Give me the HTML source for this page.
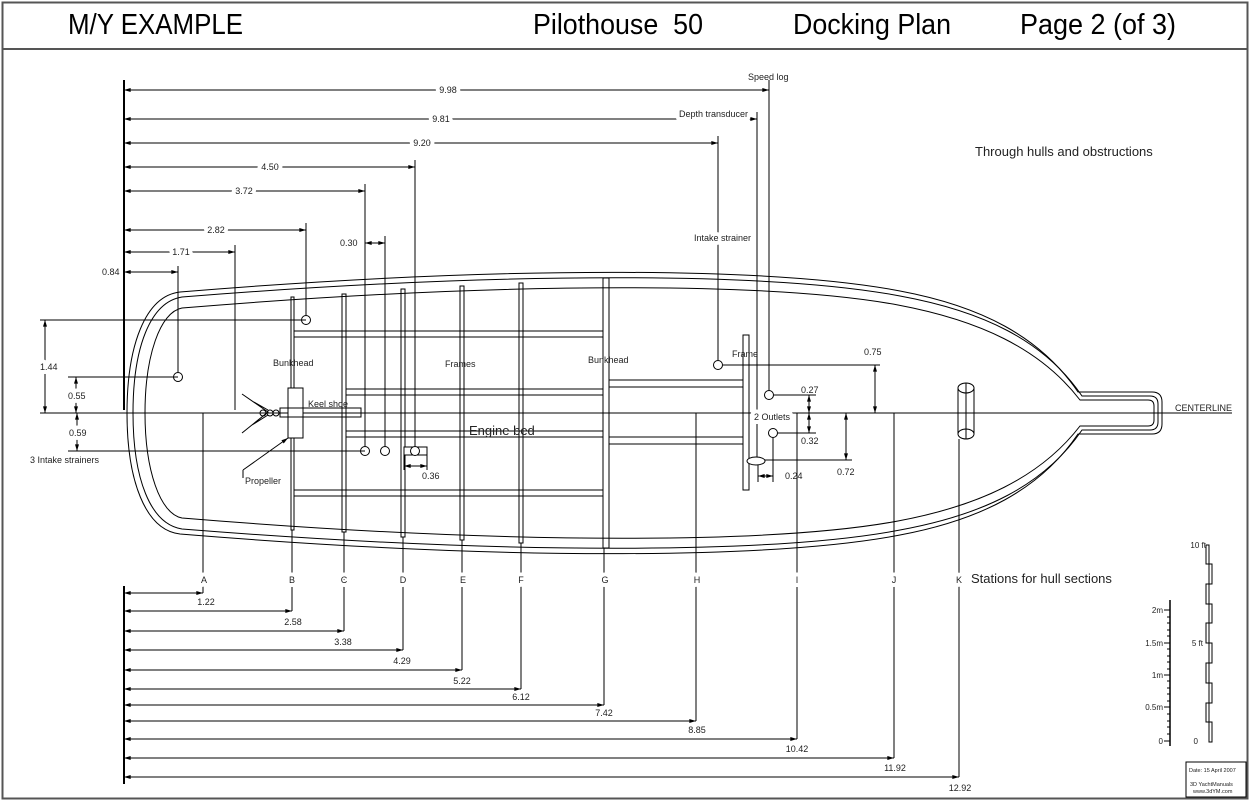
<!DOCTYPE html>
<html><head><meta charset="utf-8"><style>
html,body{margin:0;padding:0;background:#fff}
svg{display:block}
text{font-family:"Liberation Sans",sans-serif;fill:#222}
.g{paint-order:stroke;stroke:#fff;stroke-width:8px;stroke-linejoin:round}
</style></head><body>
<svg width="1252" height="802" viewBox="0 0 1252 802" xmlns="http://www.w3.org/2000/svg">
<defs>
<marker id="a" viewBox="0 0 10 6" refX="10" refY="3" markerWidth="7" markerHeight="4" markerUnits="userSpaceOnUse" orient="auto-start-reverse"><path d="M0,0 L10,3 L0,6 z" fill="#000"/></marker>
</defs>
<g fill="none" stroke="#000" stroke-width="1">
<rect x="2.5" y="2.5" width="1245" height="796" stroke="#555" stroke-width="2"/>
<line x1="2" y1="49" x2="1248" y2="49" stroke="#555" stroke-width="2"/>

<line x1="124" y1="80" x2="124" y2="410" stroke-width="2"/>
<line x1="124" y1="586" x2="124" y2="784" stroke-width="2"/>

<line x1="40" y1="413" x2="1232" y2="413"/>

<path d="M1078,392 L1152,392 Q1162,392 1162,402 L1162,424 Q1162,434 1152,434 L1078,434 C1040,490 980,520 900,535 C780,558 520,562 180,534 C145,530 127,480 127,413 C127,346 145,296 180,292 C520,264 780,268 900,291 C980,306 1040,336 1078,392 Z"/>
<path d="M1082,396 L1150,396 Q1158,396 1158,404 L1158,422 Q1158,430 1150,430 L1082,430 C1044,486 982,515 900,530 C780,553 520,556 182,529 C150,524 133,478 133,413 C133,348 150,302 182,297 C520,270 780,273 900,296 C982,311 1044,340 1082,396 Z"/>
<path d="M1080,400 L1148,400 Q1154,400 1154,406 L1154,420 Q1154,426 1148,426 L1080,426 C1040,478 978,506 898,521 C780,543 520,546 182,518 C160,514 145,470 145,413 C145,356 160,312 182,308 C520,280 780,283 898,305 C978,320 1040,348 1080,400 Z"/>

<rect x="291" y="297" width="3" height="233"/>
<rect x="342" y="294" width="4" height="238"/>
<rect x="401" y="289" width="4" height="248"/>
<rect x="460" y="286" width="4" height="254"/>
<rect x="519" y="283" width="4" height="260"/>
<rect x="603" y="278" width="6" height="270"/>
<rect x="743" y="335" width="6" height="155"/>
<line x1="294" y1="331" x2="603" y2="331"/><line x1="294" y1="337" x2="603" y2="337"/>
<line x1="346" y1="389" x2="603" y2="389"/><line x1="346" y1="395" x2="603" y2="395"/>
<line x1="346" y1="431" x2="603" y2="431"/><line x1="346" y1="437" x2="603" y2="437"/>
<line x1="294" y1="490" x2="603" y2="490"/><line x1="294" y1="496" x2="603" y2="496"/>
<line x1="609" y1="380" x2="743" y2="380"/><line x1="609" y1="387" x2="743" y2="387"/>
<line x1="609" y1="437" x2="743" y2="437"/><line x1="609" y1="444" x2="743" y2="444"/>

<rect x="288" y="388" width="15" height="50" fill="#fff"/>
<rect x="280" y="408" width="81" height="9"/>
<path d="M240,413 L270,413 M242,394 L268,412 L242,433 M252,401 L268,410 M252,425 L268,415"/>
<circle cx="263" cy="413" r="3"/><circle cx="270" cy="413" r="3"/><circle cx="276" cy="413" r="3"/>
<line x1="243" y1="470" x2="288" y2="438" marker-end="url(#a)"/>
<line x1="243" y1="470" x2="243" y2="478"/>

<line x1="124" y1="90" x2="769" y2="90" marker-start="url(#a)" marker-end="url(#a)"/>
<line x1="769" y1="80" x2="769" y2="390"/>
<line x1="124" y1="119" x2="757" y2="119" marker-start="url(#a)" marker-end="url(#a)"/>
<line x1="757" y1="112" x2="757" y2="457"/>
<line x1="124" y1="143" x2="718" y2="143" marker-start="url(#a)" marker-end="url(#a)"/>
<line x1="718" y1="136" x2="718" y2="360"/>
<line x1="124" y1="167" x2="415" y2="167" marker-start="url(#a)" marker-end="url(#a)"/>
<line x1="415" y1="160" x2="415" y2="446"/>
<line x1="124" y1="191" x2="365" y2="191" marker-start="url(#a)" marker-end="url(#a)"/>
<line x1="365" y1="184" x2="365" y2="446"/>
<line x1="124" y1="230" x2="306" y2="230" marker-start="url(#a)" marker-end="url(#a)"/>
<line x1="306" y1="223" x2="306" y2="315"/>
<line x1="124" y1="252" x2="235" y2="252" marker-start="url(#a)" marker-end="url(#a)"/>
<line x1="235" y1="245" x2="235" y2="410"/>
<line x1="124" y1="272" x2="178" y2="272" marker-start="url(#a)" marker-end="url(#a)"/>
<line x1="178" y1="266" x2="178" y2="372"/>
<line x1="365" y1="243" x2="385" y2="243" marker-start="url(#a)" marker-end="url(#a)"/>
<line x1="385" y1="236" x2="385" y2="446"/>

<circle cx="306" cy="320" r="4.5" fill="#fff"/>
<circle cx="178" cy="377" r="4.5" fill="#fff"/>
<circle cx="365" cy="451" r="4.5" fill="#fff"/>
<circle cx="385" cy="451" r="4.5" fill="#fff"/>
<rect x="404" y="447" width="23" height="8" fill="#fff"/>
<circle cx="415" cy="451" r="4.5" fill="#fff"/>
<circle cx="718" cy="365" r="4.5" fill="#fff"/>
<circle cx="769" cy="395" r="4.5" fill="#fff"/>
<circle cx="773" cy="433" r="4.5" fill="#fff"/>
<ellipse cx="756" cy="461" rx="9" ry="4" fill="#fff"/>
<line x1="404" y1="455" x2="404" y2="470"/><line x1="427" y1="455" x2="427" y2="470"/>
<line x1="404" y1="466" x2="427" y2="466" marker-start="url(#a)" marker-end="url(#a)"/>

<line x1="40" y1="320" x2="306" y2="320"/>
<line x1="68" y1="377" x2="178" y2="377"/>
<line x1="68" y1="451" x2="365" y2="451"/>
<line x1="45" y1="320" x2="45" y2="413" marker-start="url(#a)" marker-end="url(#a)"/>
<line x1="76" y1="377" x2="76" y2="413" marker-start="url(#a)" marker-end="url(#a)"/>
<line x1="77" y1="413" x2="77" y2="451" marker-start="url(#a)" marker-end="url(#a)"/>

<line x1="723" y1="365" x2="880" y2="365"/>
<line x1="875" y1="365" x2="875" y2="413" marker-start="url(#a)" marker-end="url(#a)"/>
<line x1="774" y1="395" x2="816" y2="395"/>
<line x1="809" y1="395" x2="809" y2="413" marker-start="url(#a)" marker-end="url(#a)"/>
<line x1="809" y1="413" x2="809" y2="433" marker-start="url(#a)" marker-end="url(#a)"/>
<line x1="778" y1="433" x2="816" y2="433"/>
<line x1="765" y1="460" x2="852" y2="460"/>
<line x1="846" y1="413" x2="846" y2="460" marker-start="url(#a)" marker-end="url(#a)"/>
<line x1="773" y1="438" x2="773" y2="482"/>
<line x1="758" y1="465" x2="758" y2="482"/>
<line x1="758" y1="476" x2="773" y2="476" marker-start="url(#a)" marker-end="url(#a)"/>

<ellipse cx="966" cy="388" rx="8" ry="5"/>
<ellipse cx="966" cy="434" rx="8" ry="5"/>
<line x1="958" y1="388" x2="958" y2="434"/><line x1="974" y1="388" x2="974" y2="434"/>
<line x1="966" y1="383" x2="966" y2="439"/>

<line x1="203" y1="413" x2="203" y2="593"/>
<line x1="292" y1="530" x2="292" y2="611"/>
<line x1="344" y1="532" x2="344" y2="631"/>
<line x1="403" y1="537" x2="403" y2="650"/>
<line x1="462" y1="540" x2="462" y2="670"/>
<line x1="521" y1="543" x2="521" y2="689"/>
<line x1="604" y1="548" x2="604" y2="705"/>
<line x1="696" y1="413" x2="696" y2="721"/>
<line x1="797" y1="413" x2="797" y2="739"/>
<line x1="894" y1="413" x2="894" y2="758"/>
<line x1="959" y1="439" x2="959" y2="777"/>

<line x1="124" y1="593" x2="203" y2="593" marker-start="url(#a)" marker-end="url(#a)"/>
<line x1="124" y1="611" x2="292" y2="611" marker-start="url(#a)" marker-end="url(#a)"/>
<line x1="124" y1="631" x2="344" y2="631" marker-start="url(#a)" marker-end="url(#a)"/>
<line x1="124" y1="650" x2="403" y2="650" marker-start="url(#a)" marker-end="url(#a)"/>
<line x1="124" y1="670" x2="462" y2="670" marker-start="url(#a)" marker-end="url(#a)"/>
<line x1="124" y1="689" x2="521" y2="689" marker-start="url(#a)" marker-end="url(#a)"/>
<line x1="124" y1="705" x2="604" y2="705" marker-start="url(#a)" marker-end="url(#a)"/>
<line x1="124" y1="721" x2="696" y2="721" marker-start="url(#a)" marker-end="url(#a)"/>
<line x1="124" y1="739" x2="797" y2="739" marker-start="url(#a)" marker-end="url(#a)"/>
<line x1="124" y1="758" x2="894" y2="758" marker-start="url(#a)" marker-end="url(#a)"/>
<line x1="124" y1="777" x2="959" y2="777" marker-start="url(#a)" marker-end="url(#a)"/>

<line x1="1170" y1="600" x2="1170" y2="746" stroke-width="1.5"/>
<path d="M1164,741H1170 M1164,707H1170 M1164,675H1170 M1164,643H1170 M1164,610H1170 M1167,734H1170 M1167,727H1170 M1167,721H1170 M1167,714H1170 M1167,701H1170 M1167,694H1170 M1167,688H1170 M1167,681H1170 M1167,669H1170 M1167,662H1170 M1167,656H1170 M1167,649H1170 M1167,636H1170 M1167,630H1170 M1167,623H1170 M1167,617H1170"/>
<path d="M1206,545 H1209 V564 H1206 Z M1209,564 H1212 V584 H1209 Z M1206,584 H1209 V604 H1206 Z M1209,604 H1212 V623 H1209 Z M1206,623 H1209 V643 H1206 Z M1209,643 H1212 V663 H1209 Z M1206,663 H1209 V683 H1206 Z M1209,683 H1212 V703 H1209 Z M1206,703 H1209 V722 H1206 Z M1209,722 H1212 V742 H1209 Z"/>
<rect x="1186" y="762" width="60" height="35"/>
</g>

<g font-size="29">
<text x="68" y="34" textLength="175" lengthAdjust="spacingAndGlyphs" style="fill:#000">M/Y EXAMPLE</text>
<text x="533" y="34" textLength="170" lengthAdjust="spacingAndGlyphs" style="fill:#000">Pilothouse &#160;50</text>
<text x="793" y="34" textLength="158" lengthAdjust="spacingAndGlyphs" style="fill:#000">Docking Plan</text>
<text x="1020" y="34" textLength="156" lengthAdjust="spacingAndGlyphs" style="fill:#000">Page 2 (of 3)</text>
</g>

<g font-size="9">
<text x="748" y="80">Speed log</text>
<text class="g" x="448" y="93" text-anchor="middle">9.98</text>
<text class="g" x="679" y="117">Depth transducer</text>
<text class="g" x="441" y="122" text-anchor="middle">9.81</text>
<text class="g" x="422" y="146" text-anchor="middle">9.20</text>
<text class="g" x="270" y="170" text-anchor="middle">4.50</text>
<text class="g" x="244" y="194" text-anchor="middle">3.72</text>
<text class="g" x="216" y="233" text-anchor="middle">2.82</text>
<text class="g" x="181" y="255" text-anchor="middle">1.71</text>
<text x="102" y="275">0.84</text>
<text x="340" y="246">0.30</text>
<text class="g" x="694" y="241">Intake strainer</text>
<text class="g" x="40" y="370">1.44</text>
<text class="g" x="68" y="399">0.55</text>
<text class="g" x="69" y="436">0.59</text>
<text x="30" y="463">3 Intake strainers</text>
<text x="273" y="366">Bunkhead</text>
<text x="445" y="367">Frames</text>
<text x="588" y="363">Bunkhead</text>
<text x="308" y="407">Keel shoe</text>
<text x="245" y="484">Propeller</text>
<text x="422" y="479">0.36</text>
<text x="732" y="357">Frame</text>
<text x="864" y="355">0.75</text>
<text x="801" y="393">0.27</text>
<text x="801" y="444">0.32</text>
<text class="g" x="754" y="420">2 Outlets</text>
<text x="785" y="479">0.24</text>
<text x="837" y="475">0.72</text>
<text x="1175" y="411">CENTERLINE</text>
</g>
<text x="469" y="435" font-size="13">Engine bed</text>
<text x="975" y="156" font-size="13">Through hulls and obstructions</text>
<text x="971" y="583" font-size="13">Stations for hull sections</text>

<g font-size="9" text-anchor="middle">
<text class="g" x="204" y="583">A</text>
<text class="g" x="292" y="583">B</text>
<text class="g" x="344" y="583">C</text>
<text class="g" x="403" y="583">D</text>
<text class="g" x="463" y="583">E</text>
<text class="g" x="521" y="583">F</text>
<text class="g" x="605" y="583">G</text>
<text class="g" x="697" y="583">H</text>
<text class="g" x="797" y="583">I</text>
<text class="g" x="894" y="583">J</text>
<text class="g" x="959" y="583">K</text>
<text x="206" y="605">1.22</text>
<text x="293" y="625">2.58</text>
<text x="343" y="645">3.38</text>
<text x="402" y="664">4.29</text>
<text x="462" y="684">5.22</text>
<text x="521" y="700">6.12</text>
<text x="604" y="716">7.42</text>
<text x="697" y="733">8.85</text>
<text x="797" y="752">10.42</text>
<text x="895" y="771">11.92</text>
<text x="960" y="791">12.92</text>
</g>
<g font-size="8" text-anchor="end">
<text x="1163" y="613">2m</text>
<text x="1163" y="646">1.5m</text>
<text x="1163" y="678">1m</text>
<text x="1163" y="710">0.5m</text>
<text x="1163" y="744">0</text>
<text x="1206" y="548">10 ft</text>
<text x="1203" y="646">5 ft</text>
<text x="1198" y="744">0</text>
</g>
<g font-size="5.5">
<text x="1189" y="772">Date: 15 April 2007</text>
<text x="1190" y="786">3D YachtManuals</text>
<text x="1193" y="793">www.3dYM.com</text>
</g>
</svg>
</body></html>
